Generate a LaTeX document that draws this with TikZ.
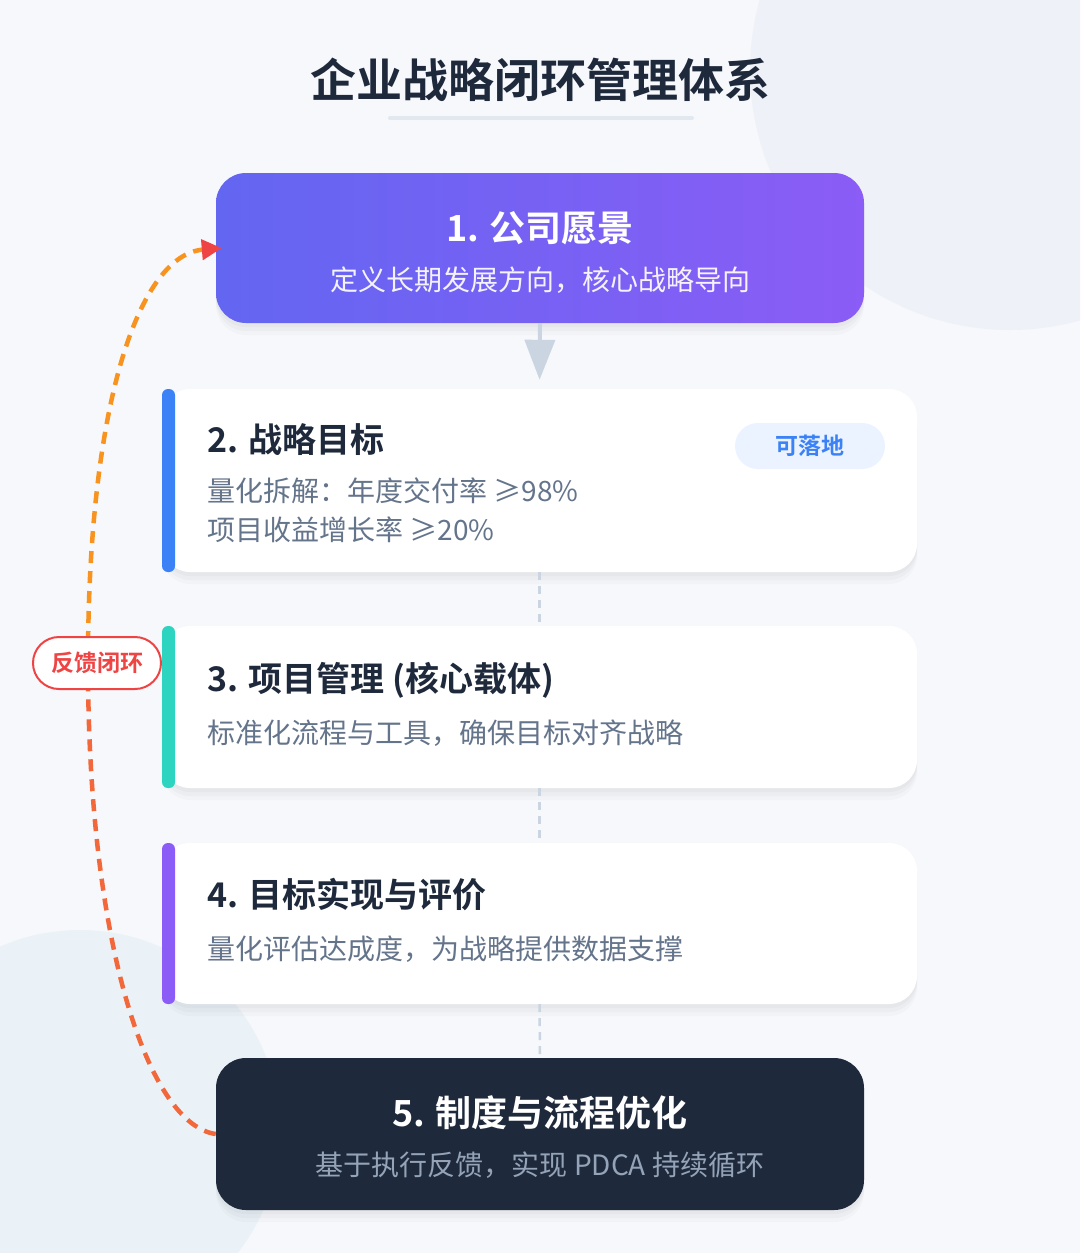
\documentclass[tikz,border=0pt]{standalone}
\usepackage{fontspec}
\setmainfont{Noto Sans CJK SC}[BoldFont={Noto Sans CJK SC Bold}]
\usetikzlibrary{positioning, arrows.meta}

\definecolor{bgpage}{HTML}{F6F8FB}
\definecolor{bgblob}{HTML}{EEF1F7}
\definecolor{bgblobb}{HTML}{EBF2F7}
\definecolor{ink}{HTML}{1E293B}
\definecolor{muted}{HTML}{64748B}
\definecolor{rule}{HTML}{E2E8F0}
\definecolor{link}{HTML}{CBD5E1}
\definecolor{indigo}{HTML}{6366F1}
\definecolor{violet}{HTML}{8B5CF6}
\definecolor{blueacc}{HTML}{3B82F6}
\definecolor{tealacc}{HTML}{2DD4BF}
\definecolor{tagfill}{HTML}{EAF3FF}
\definecolor{fbred}{HTML}{EF4444}
\definecolor{fborange}{HTML}{F7931E}
\definecolor{fblow}{HTML}{F2683A}
\definecolor{subdark}{HTML}{94A3B8}

\begin{document}
\begin{tikzpicture}[
  x=1pt, y=-1pt,
  shadowed/.style={
    preaction={fill=black, fill opacity=0.025, transform canvas={yshift=-4pt}},
    preaction={fill=black, fill opacity=0.025, transform canvas={yshift=-8pt}},
    preaction={fill=black, fill opacity=0.02, transform canvas={yshift=-12pt}}},
  keybox/.style={rounded corners=30pt, minimum width=648pt, inner sep=0pt, shadowed},
  card/.style={fill=white, rounded corners=28pt, minimum width=755pt, inner sep=0pt, shadowed},
  accent/.style={rounded corners=6pt, minimum width=13pt, inner sep=0pt},
  ttl/.style={font=\fontsize{34}{38}\selectfont\bfseries, text=ink, anchor=west},
  ttlc/.style={font=\fontsize{36}{40}\selectfont\bfseries, anchor=center},
  sub/.style={font=\fontsize{28}{32}\selectfont, text=muted, anchor=west},
  subc/.style={font=\fontsize{28}{32}\selectfont, anchor=center},
  pill/.style={rounded corners=23pt, inner sep=0pt},
  step link/.style={draw=link, line width=2.5pt, dash pattern=on 8pt off 6pt},
  fb/.style={line width=4.5pt, dash pattern=on 12pt off 8pt},
]
% ---- background ----
\useasboundingbox (0,0) rectangle (1080,1253);
\fill[bgpage] (0,0) rectangle (1080,1253);
\begin{scope}
  \clip (0,0) rectangle (1080,1253);
  \fill[bgblob] (1010,70) circle (260);
  \fill[bgblobb] (80,1130) circle (200);
\end{scope}

% ---- title ----
\node[font=\fontsize{46}{50}\selectfont\bfseries, text=ink] (title) at (540,80) {企业战略闭环管理体系};
\draw[rule, line width=4pt, line cap=round] (390,118) -- (692,118);

% ---- step 1 ----
\node[keybox, minimum height=150pt, left color=indigo, right color=violet] (vision) at (540,248) {};
\node[ttlc, text=white] (visionT) at (540,228) {1. 公司愿景};
\node[subc, text=white, text opacity=0.92] (visionS) at (540,280) {定义长期发展方向，核心战略导向};

% ---- step 2 ----
\node[card, minimum height=183pt] (goal) at (539.5,480.5) {};
\node[accent, minimum height=183pt, fill=blueacc] (goalA) at (168.5,480.5) {};
\node[ttl] (goalT) at (204,440) {2. 战略目标};
\node[sub] (goalS1) at (204,491) {量化拆解：年度交付率 ≥98\%};
\node[sub] (goalS2) at (204,530) {项目收益增长率 ≥20\%};
\node[pill, fill=tagfill, minimum width=150pt, minimum height=46pt] (tag) at (810,446) {};
\node[font=\fontsize{23}{27}\selectfont\bfseries, text=blueacc] (tagT) at (tag) {可落地};

% ---- step 3 ----
\node[card, minimum height=162pt] (proj) at (539.5,707) {};
\node[accent, minimum height=162pt, fill=tealacc] (projA) at (168.5,707) {};
\node[ttl] (projT) at (204,680) {3. 项目管理 (核心载体)};
\node[sub] (projS) at (204,733) {标准化流程与工具，确保目标对齐战略};

% ---- step 4 ----
\node[card, minimum height=161pt] (eval) at (539.5,923.5) {};
\node[accent, minimum height=161pt, fill=violet] (evalA) at (168.5,923.5) {};
\node[ttl] (evalT) at (204,895) {4. 目标实现与评价};
\node[sub] (evalS) at (204,949) {量化评估达成度，为战略提供数据支撑};

% ---- step 5 ----
\node[keybox, minimum height=152pt, fill=ink] (optim) at (540,1134) {};
\node[ttlc, text=white] (optimT) at (540,1113) {5. 制度与流程优化};
\node[subc, text=subdark] (optimS) at (540,1165) {基于执行反馈，实现 PDCA 持续循环};

% ---- forward flow ----
\draw[link, line width=4pt, shorten >=9pt, -{Triangle[length=40pt, width=30pt]}] (vision.south) -- (goal.north);
\draw[step link] (goal.south) -- (proj.north);
\draw[step link] (proj.south) -- (eval.north);
\draw[step link] (eval.south) -- (optim.north);

% ---- feedback loop ----
\coordinate (fbmid) at (88,663);
\draw[fb, fblow] (optim.west) .. controls (150,1125) and (88,950) .. (fbmid);
\draw[fb, fborange, -{Triangle[length=20pt, width=20pt, color=fbred]}]
  (fbmid) .. controls (88,400) and (140,255) .. ([xshift=6pt]vision.west);
\node[pill, draw=fbred, line width=2pt, fill=white, minimum width=128pt, minimum height=52pt,
      rounded corners=26pt, font=\fontsize{23}{26}\selectfont\bfseries, text=fbred] (fbtag) at (97,663) {反馈闭环};
\end{tikzpicture}
\end{document}
